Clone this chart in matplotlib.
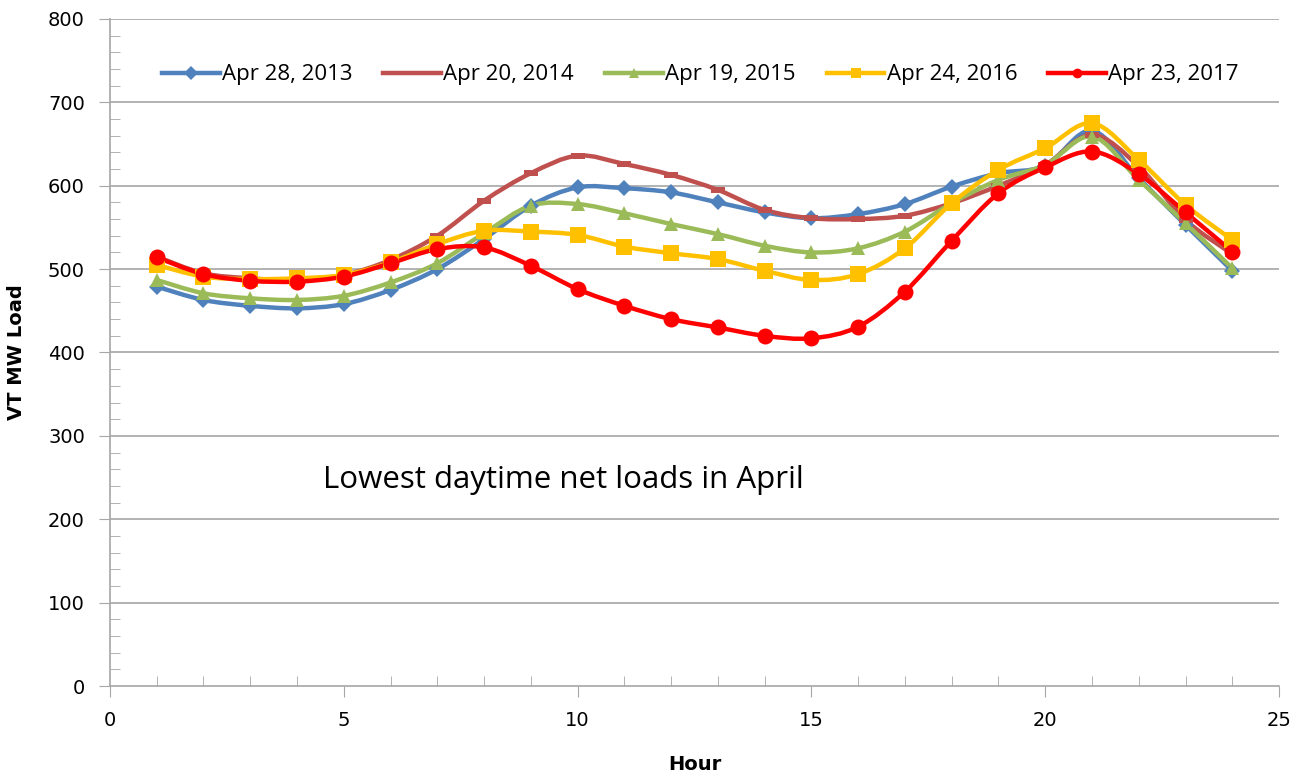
import matplotlib
matplotlib.use("Agg")
import matplotlib.pyplot as plt
import numpy as np
from matplotlib.path import Path
from matplotlib.patches import PathPatch
from matplotlib.lines import Line2D
from matplotlib.ticker import MultipleLocator

# hours of the day
hours = list(range(1, 25))

# VT MW load
load_2013 = [479, 463, 456, 453, 458, 475, 500, 536, 576, 598, 597, 592, 580, 568, 561, 566, 578, 599, 615, 624, 666, 609, 553, 498]
load_2014 = [515, 495, 489, 487, 493, 511, 540, 582, 615, 636, 626, 613, 595, 571, 561, 560, 564, 579, 600, 625, 661, 623, 559, 518]
load_2015 = [487, 471, 465, 463, 468, 484, 507, 543, 576, 578, 567, 554, 542, 528, 520, 525, 545, 579, 607, 625, 659, 607, 555, 501]
load_2016 = [505, 491, 488, 489, 493, 508, 530, 546, 545, 541, 527, 519, 512, 498, 487, 494, 525, 579, 619, 645, 675, 631, 577, 535]
load_2017 = [514, 494, 486, 485, 491, 507, 524, 526, 504, 476, 456, 440, 430, 420, 417, 431, 473, 534, 591, 622, 641, 614, 568, 521]

labels = ["Apr 28, 2013", "Apr 20, 2014", "Apr 19, 2015", "Apr 24, 2016", "Apr 23, 2017"]
series = [load_2013, load_2014, load_2015, load_2016, load_2017]
colors = ["#4F81BD", "#C0504D", "#9BBB59", "#FFC000", "#FF0000"]
# 2014 uses a flat bar marker like excel's dash
dash = [(-1, -0.45), (1, -0.45), (1, 0.45), (-1, 0.45), (-1, -0.45)]
markers = ["D", dash, "^", "s", "o"]
msizes = [8.5, 10, 10, 11, 11.5]
leg_markers = ["D", None, "^", "s", "o"]


def smooth_path(x, y):
    # Excel style smoothed line: cubic bezier segments through the points
    x = np.asarray(x, float)
    y = np.asarray(y, float)
    n = len(x)
    verts = [(x[0], y[0])]
    codes = [Path.MOVETO]
    for i in range(n - 1):
        i0 = max(i - 1, 0)
        i3 = min(i + 2, n - 1)
        c1 = (x[i] + (x[i + 1] - x[i0]) / 6, y[i] + (y[i + 1] - y[i0]) / 6)
        c2 = (x[i + 1] - (x[i3] - x[i]) / 6, y[i + 1] - (y[i3] - y[i]) / 6)
        verts += [c1, c2, (x[i + 1], y[i + 1])]
        codes += [Path.CURVE4] * 3
    return Path(verts, codes)


fig = plt.figure(figsize=(12.98, 7.73), dpi=100)
ax = fig.add_axes([0.0847, 0.1125, 0.9007, 0.863])

ax.set_xlim(0, 25)
ax.set_ylim(0, 800)

for yv in range(100, 900, 100):
    ax.axhline(yv, color="#A6A6A6", lw=1.2, zorder=0)

handles = []
for vals, col, mk, ms, lmk in zip(series, colors, markers, msizes, leg_markers):
    ax.add_patch(PathPatch(smooth_path(hours, vals), fill=False, edgecolor=col, lw=3.2, zorder=2))
    ax.plot(hours, vals, ls="none", marker=mk, ms=ms, color=col, mew=0, zorder=3)
    handles.append(Line2D([], [], color=col, lw=3.2, marker=lmk, ms=7, mew=0))

ax.legend(handles, labels, loc="upper center", bbox_to_anchor=(0.505, 0.962), ncol=5, frameon=False,
          prop={"family": "Open Sans", "size": 16}, handlelength=2.6, handletextpad=0.1,
          columnspacing=1.4)

ax.text(4.55, 247, "Lowest daytime net loads in April", fontsize=22.5, va="center", ha="left",
        family="Open Sans")

for s in ["top", "right"]:
    ax.spines[s].set_visible(False)
for s in ["left", "bottom"]:
    ax.spines[s].set_color("#A6A6A6")
    ax.spines[s].set_linewidth(1.2)

ax.xaxis.set_major_locator(MultipleLocator(5))
ax.xaxis.set_minor_locator(MultipleLocator(1))
ax.yaxis.set_major_locator(MultipleLocator(100))
ax.yaxis.set_minor_locator(MultipleLocator(20))
ax.tick_params(which="major", direction="out", length=8, color="#A6A6A6", labelsize=14, pad=10)
ax.tick_params(which="minor", direction="in", length=7, color="#A6A6A6")

ax.set_xlabel("Hour", fontsize=14, fontweight="bold", labelpad=18)
ax.set_ylabel("VT MW Load", fontsize=14, fontweight="bold", labelpad=16)

fig.savefig("out.png", dpi=100)
